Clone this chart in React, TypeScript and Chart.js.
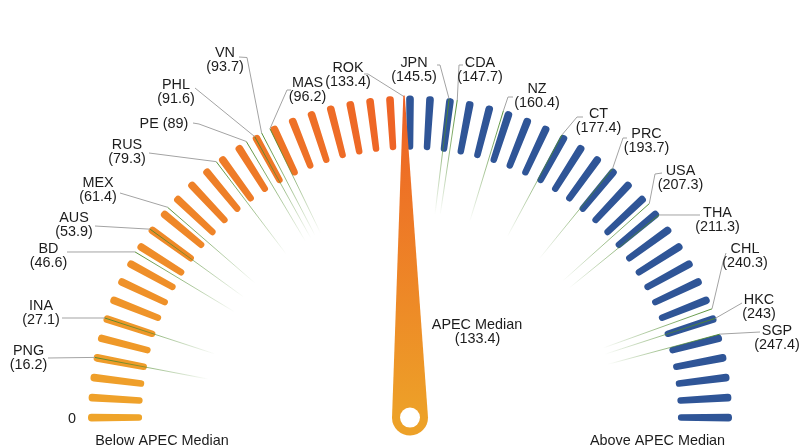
import React, { useEffect, useRef } from 'react';
import { Chart, registerables } from 'chart.js';

Chart.register(...registerables);

// ---- data ----
const GAUGE_MIN = 0;
const GAUGE_MAX = 270;
const TICK_COUNT = 51; // gauge marks from GAUGE_MIN to GAUGE_MAX
const MEDIAN_LABEL = 'APEC Median';
const MEDIAN_VALUE = 133.4;
const ZERO_LABEL = '0';
const BELOW_LABEL = 'Below APEC Median';
const ABOVE_LABEL = 'Above APEC Median';

const economies = ['PNG', 'INA', 'BD', 'AUS', 'MEX', 'RUS', 'PE', 'PHL', 'VN', 'MAS', 'ROK',
  'JPN', 'CDA', 'NZ', 'CT', 'PRC', 'USA', 'THA', 'CHL', 'HKC', 'SGP'];
const values = [16.2, 27.1, 46.6, 53.9, 61.4, 79.3, 89, 91.6, 93.7, 96.2, 133.4,
  145.5, 147.7, 160.4, 177.4, 193.7, 207.3, 211.3, 240.3, 243, 247.4];
const singleLine = ['PE'];

// ---- layout (pixels): text centre x, first baseline y, leader start/bend points ----
const labelLayout: { x: number; y: number; path: number[][] }[] = [
  { x: 28.5, y: 355, path: [[48, 358]] },              // PNG
  { x: 41, y: 310, path: [[62, 318]] },                // INA
  { x: 48.5, y: 253, path: [[67, 252]] },              // BD
  { x: 74, y: 222, path: [[95, 226]] },                // AUS
  { x: 98, y: 187, path: [[120, 193]] },               // MEX
  { x: 127, y: 149, path: [[149, 153]] },              // RUS
  { x: 164, y: 128, path: [[193, 123], [199, 124]] },  // PE
  { x: 176, y: 89, path: [[195, 88]] },                // PHL
  { x: 225, y: 57, path: [[239, 57], [247, 57.5]] },   // VN
  { x: 307.5, y: 87, path: [[291, 90], [287, 90]] },   // MAS
  { x: 348, y: 72, path: [[364, 74], [368, 74]] },     // ROK
  { x: 414, y: 67, path: [[437, 65], [440, 65]] },     // JPN
  { x: 480, y: 67, path: [[463, 65], [459, 65]] },     // CDA
  { x: 537, y: 93, path: [[513, 97], [508, 97]] },     // NZ
  { x: 598.5, y: 117.5, path: [[583, 117], [577, 117]] }, // CT
  { x: 646.5, y: 137.5, path: [[627, 138], [623, 138]] }, // PRC
  { x: 680.5, y: 175, path: [[662, 173], [655, 174]] },   // USA
  { x: 717.5, y: 217, path: [[700, 215]] },               // THA
  { x: 745, y: 253, path: [[726, 253], [723, 262]] },     // CHL
  { x: 759, y: 303.5, path: [[742, 303]] },               // HKC
  { x: 777, y: 335, path: [[760, 332]] },                 // SGP
];

const FONT = '14.4px "Liberation Sans", Arial, Helvetica, sans-serif';
const TEXT_COLOR = '#1c1c1c';
const BLUE = '#2F5597';
const ORANGE_LOW = [239, 164, 42];
const ORANGE_HIGH = [238, 100, 38];
const TICK_W = 1.38; // degrees
const GAP_W = 2.22;  // degrees

function buildGauge() {
  const data: number[] = [];
  const colors: string[] = [];
  const step = (GAUGE_MAX - GAUGE_MIN) / (TICK_COUNT - 1);
  const belowCount = Math.floor((MEDIAN_VALUE - GAUGE_MIN) / step) + 1;
  for (let i = 0; i < TICK_COUNT; i++) {
    const v = GAUGE_MIN + i * step;
    data.push(TICK_W);
    if (v < MEDIAN_VALUE) {
      const t = belowCount > 1 ? i / (belowCount - 1) : 0;
      const c = ORANGE_LOW.map((a, k) => Math.round(a + (ORANGE_HIGH[k] - a) * t));
      colors.push(`rgb(${c[0]},${c[1]},${c[2]})`);
    } else {
      colors.push(BLUE);
    }
    if (i < TICK_COUNT - 1) {
      data.push(GAP_W);
      colors.push('rgba(0,0,0,0)');
    }
  }
  return { data, colors };
}

const overlayPlugin = {
  id: 'gaugeOverlay',
  afterDatasetsDraw(chart: any) {
    const ctx: CanvasRenderingContext2D = chart.ctx;
    const meta = chart.getDatasetMeta(0);
    const first = meta.data[0].getProps(['x', 'y', 'startAngle', 'endAngle', 'outerRadius', 'innerRadius'], true);
    const last = meta.data[meta.data.length - 1].getProps(['startAngle', 'endAngle'], true);
    const cx = first.x, cy = first.y;
    const a0 = (first.startAngle + first.endAngle) / 2;
    const a1 = (last.startAngle + last.endAngle) / 2;
    const R = first.outerRadius;
    const angleOf = (v: number) => a0 + ((v - GAUGE_MIN) / (GAUGE_MAX - GAUGE_MIN)) * (a1 - a0);
    const pt = (a: number, r: number) => [cx + r * Math.cos(a), cy + r * Math.sin(a)];

    ctx.save();
    // green value rays
    values.forEach((v) => {
      if (v === MEDIAN_VALUE) return;
      const a = angleOf(v);
      const p0 = pt(a, R - 1);
      const p1 = pt(a, 205);
      const g = ctx.createLinearGradient(p0[0], p0[1], p1[0], p1[1]);
      g.addColorStop(0, 'rgba(78,138,44,0.95)');
      g.addColorStop(0.5, 'rgba(78,138,44,0.55)');
      g.addColorStop(1, 'rgba(78,138,44,0)');
      ctx.strokeStyle = g;
      ctx.lineWidth = 1;
      ctx.beginPath();
      ctx.moveTo(p0[0], p0[1]);
      ctx.lineTo(p1[0], p1[1]);
      ctx.stroke();
    });

    // leaders
    ctx.strokeStyle = '#a3a3a3';
    ctx.lineWidth = 1;
    values.forEach((v, i) => {
      const L = labelLayout[i];
      const end = pt(angleOf(v), R - 1);
      ctx.beginPath();
      ctx.moveTo(L.path[0][0], L.path[0][1]);
      for (let k = 1; k < L.path.length; k++) ctx.lineTo(L.path[k][0], L.path[k][1]);
      ctx.lineTo(end[0], end[1]);
      ctx.stroke();
    });

    // needle
    const am = angleOf(MEDIAN_VALUE);
    const ux = Math.cos(am), uy = Math.sin(am);
    const nx = -uy, ny = ux;
    const baseW = 18, tipW = 0.7;
    const tip = pt(am, R);
    const grad = ctx.createLinearGradient(cx, cy, tip[0], tip[1]);
    grad.addColorStop(0, '#EDA128');
    grad.addColorStop(1, '#EE6025');
    ctx.fillStyle = grad;
    ctx.beginPath();
    ctx.moveTo(cx + baseW * nx, cy + baseW * ny);
    ctx.lineTo(tip[0] + tipW * nx, tip[1] + tipW * ny);
    ctx.lineTo(tip[0] - tipW * nx, tip[1] - tipW * ny);
    ctx.lineTo(cx - baseW * nx, cy - baseW * ny);
    ctx.arc(cx, cy, baseW, am - Math.PI / 2, am + Math.PI / 2, true);
    ctx.closePath();
    ctx.fill();
    ctx.fillStyle = '#ffffff';
    ctx.beginPath();
    ctx.arc(cx, cy, 10, 0, Math.PI * 2);
    ctx.fill();

    // texts
    ctx.font = FONT;
    ctx.fillStyle = TEXT_COLOR;
    ctx.textAlign = 'center';
    ctx.textBaseline = 'alphabetic';
    economies.forEach((name, i) => {
      const L = labelLayout[i];
      if (singleLine.includes(name)) {
        ctx.fillText(`${name} (${values[i]})`, L.x, L.y);
      } else {
        ctx.fillText(name, L.x, L.y);
        ctx.fillText(`(${values[i]})`, L.x, L.y + 14);
      }
    });
    ctx.fillText(ZERO_LABEL, 72, 422.5);
    ctx.fillText(BELOW_LABEL, 162, 445);
    ctx.fillText(ABOVE_LABEL, 657.5, 445);
    ctx.fillText(MEDIAN_LABEL, 477, 328.5);
    ctx.fillText(`(${MEDIAN_VALUE})`, 477.5, 342.5);
    ctx.restore();
  },
};

export default function App() {
  const ref = useRef<HTMLCanvasElement | null>(null);
  useEffect(() => {
    if (!ref.current) return;
    const { data, colors } = buildGauge();
    const chart = new Chart(ref.current, {
      type: 'doughnut',
      data: {
        labels: data.map((_, i) => String(i)),
        datasets: [
          {
            data,
            backgroundColor: colors,
            borderWidth: 0,
            borderRadius: 3.5,
            clip: false as any,
          } as any,
        ],
      },
      options: {
        responsive: false,
        animation: false,
        devicePixelRatio: 1,
        events: [],
        rotation: -90 - TICK_W / 2,
        circumference: 180 + TICK_W,
        cutout: '83.2%',
        radius: 322,
        layout: { padding: { left: 17, top: 71, right: 0, bottom: 0 } },
        plugins: { legend: { display: false }, tooltip: { enabled: false } },
      } as any,
      plugins: [overlayPlugin],
    });
    return () => chart.destroy();
  }, []);
  return (
    <div style={{ position: 'fixed', left: 0, top: 0, width: 803, height: 446, background: '#fff' }}>
      <canvas ref={ref} width={803} height={446} style={{ display: 'block' }} />
    </div>
  );
}
